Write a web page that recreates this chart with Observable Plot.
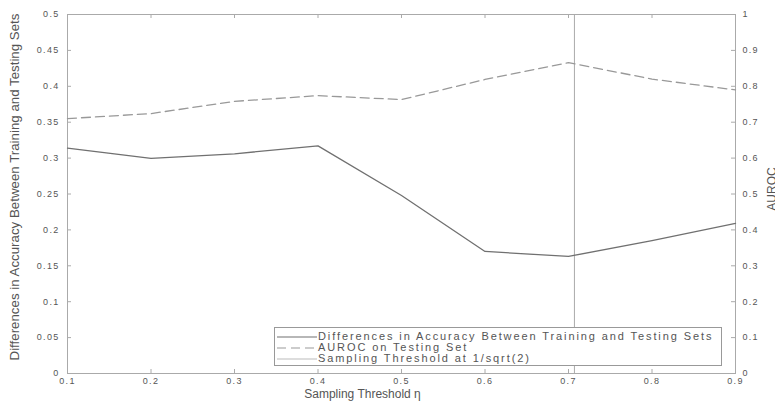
<!DOCTYPE html>
<html><head><meta charset="utf-8">
<script src="https://cdn.jsdelivr.net/npm/d3@7"></script>
<script src="https://cdn.jsdelivr.net/npm/@observablehq/plot@0.6"></script>
<style>
body{margin:0;background:#fff;font-family:"Liberation Sans",Arial,sans-serif}
#wrap{position:relative;width:775px;height:406px;overflow:hidden}
#legend{position:absolute;left:274px;top:327px;width:448px;height:39px;border:1px solid #999;background:#fff;box-sizing:border-box;font-size:11px;letter-spacing:1.9px;color:#555}
#legend .row{position:absolute;left:0;height:11px;line-height:11px;white-space:nowrap}
#legend svg{position:absolute;left:2px;top:5px}
#legend span{position:absolute;left:43px;top:0}
</style></head><body><div id="wrap"></div>
<script>
const thresholds = [0.1, 0.2, 0.3, 0.4, 0.5, 0.6, 0.7, 0.8, 0.9];
const accDiff = [0.314, 0.2995, 0.306, 0.317, 0.248, 0.17, 0.163, 0.185, 0.209];
const auroc = [0.71, 0.724, 0.758, 0.774, 0.763, 0.819, 0.866, 0.82, 0.79];
const cutoff = [1 / Math.SQRT2];
const leftTicks = [0, 0.05, 0.1, 0.15, 0.2, 0.25, 0.3, 0.35, 0.4, 0.45, 0.5];
const rightTicks = [0, 0.1, 0.2, 0.3, 0.4, 0.5, 0.6, 0.7, 0.8, 0.9, 1];
const xTicks = [0.1, 0.2, 0.3, 0.4, 0.5, 0.6, 0.7, 0.8, 0.9];
const seriesNames = ["Differences in Accuracy Between Training and Testing Sets", "AUROC on Testing Set", "Sampling Threshold at 1/sqrt(2)"];
const xLabel = "Sampling Threshold \u03b7";
const yLabel = "Differences in Accuracy Between Training and Testing Sets";
const y2Label = "AUROC";

const W = 775, H = 406, mL = 67, mR = 40, mT = 14, mB = 33;
const pw = W - mL - mR, ph = H - mT - mB;
const ratio = 0.5; // right axis [0,1] mapped onto left [0,0.5]

const rows = thresholds.map((t, i) => ({t, acc: accDiff[i], au: auroc[i] * ratio}));
const fmt = d => String(+d.toFixed(2));

const chart = Plot.plot({
  width: W, height: H,
  marginLeft: mL, marginRight: mR, marginTop: mT, marginBottom: mB,
  style: {fontFamily: "'Liberation Sans', Arial, sans-serif", fontSize: "9px", color: "#555", background: "white", letterSpacing: "1.3px"},
  x: {domain: [0.1, 0.9]},
  y: {domain: [0, 0.5]},
  marks: [
    Plot.frame({stroke: "#aaa"}),
    // inward ticks
    Plot.tickX(xTicks, {x: d => d, insetTop: ph - 4, stroke: "#aaa"}),
    Plot.tickX(xTicks, {x: d => d, insetBottom: ph - 4, stroke: "#aaa"}),
    Plot.tickY(leftTicks, {y: d => d, insetRight: pw - 4, stroke: "#aaa"}),
    Plot.tickY(rightTicks.map(d => d * ratio), {y: d => d, insetLeft: pw - 4, stroke: "#aaa"}),
    Plot.axisX(xTicks, {anchor: "bottom", tickSize: 0, tickPadding: 4, tickFormat: fmt, label: null}),
    Plot.axisY(leftTicks, {anchor: "left", tickSize: 0, tickPadding: 8, tickFormat: fmt, label: null}),
    Plot.axisY(rightTicks.map(d => d * ratio), {anchor: "right", tickSize: 0, tickPadding: 7, tickFormat: d => fmt(d / ratio), label: null}),
    Plot.ruleX(cutoff, {stroke: "#aaa", strokeWidth: 1}),
    Plot.line(rows, {x: "t", y: "au", stroke: "#999", strokeWidth: 1.3, strokeDasharray: "9,5"}),
    Plot.line(rows, {x: "t", y: "acc", stroke: "#707070", strokeWidth: 1.3}),
    Plot.text([xLabel], {text: d => d, frameAnchor: "bottom", dx: -39, dy: 21, fontSize: 12, fill: "#555", lineAnchor: "middle"}),
    Plot.text([yLabel], {text: d => d, frameAnchor: "left", textAnchor: "middle", lineAnchor: "middle", dx: -53, dy: -7, rotate: -90, fontSize: 13.3, fill: "#555"}),
    Plot.text([y2Label], {text: d => d, frameAnchor: "right", textAnchor: "middle", lineAnchor: "middle", dx: 37, dy: -5, rotate: -90, fontSize: 12, fill: "#555"})
  ]
});
// axis-title texts without extra letter spacing
d3.select(chart).selectAll("g[aria-label='text'] text").style("letter-spacing", "0px");
const wrap = document.getElementById("wrap");
wrap.appendChild(chart);

// legend
const legend = document.createElement("div");
legend.id = "legend";
const styles = [
  {stroke: "#707070", dash: null},
  {stroke: "#999", dash: "9,5"},
  {stroke: "#bbb", dash: null}
];
seriesNames.forEach((name, i) => {
  const row = document.createElement("div");
  row.className = "row";
  row.style.top = (3 + i * 11) + "px";
  row.style.width = "100%";
  row.innerHTML = `<svg width="40" height="2"><line x1="0" x2="40" y1="1" y2="1" stroke="${styles[i].stroke}" stroke-width="1.2" ${styles[i].dash ? `stroke-dasharray="${styles[i].dash}"` : ""}/></svg><span>${name}</span>`;
  legend.appendChild(row);
});
wrap.appendChild(legend);
</script>
</body></html>
